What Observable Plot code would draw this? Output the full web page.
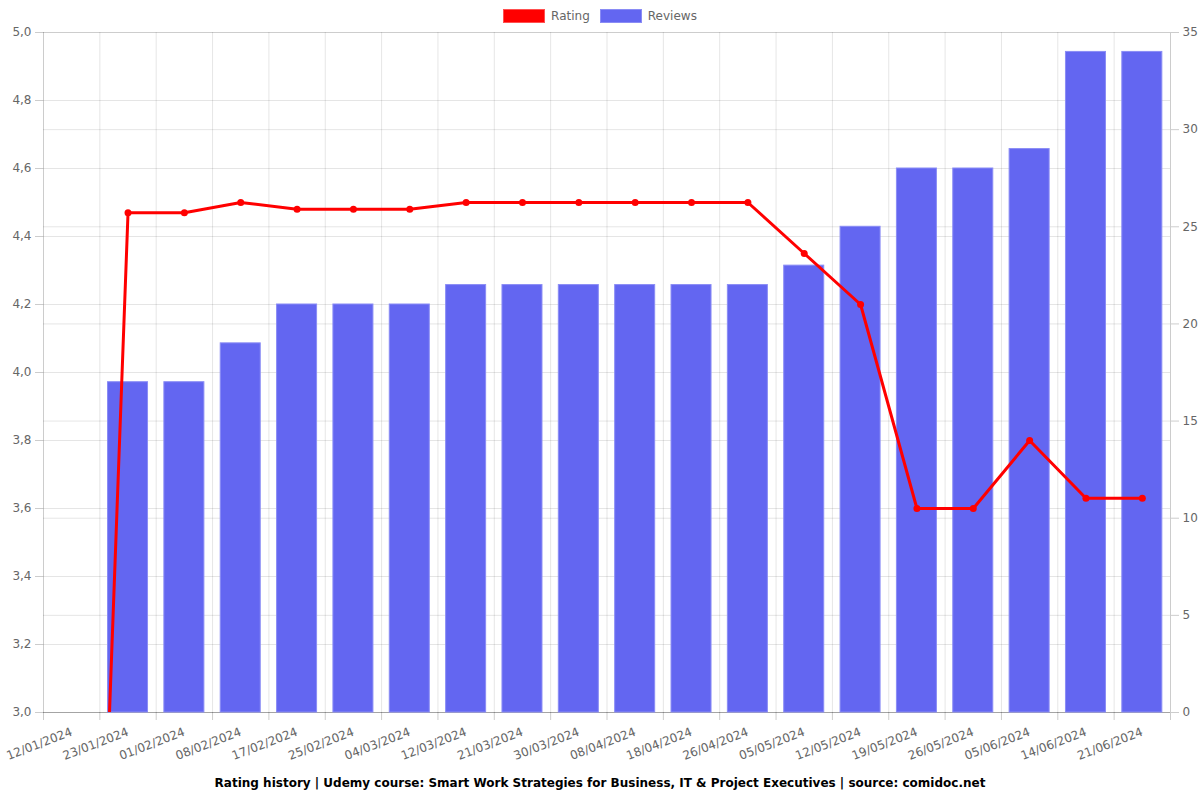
<!DOCTYPE html>
<html><head><meta charset="utf-8">
<script src="https://cdn.jsdelivr.net/npm/d3@7"></script>
<script src="https://cdn.jsdelivr.net/npm/@observablehq/plot@0.6"></script>
<style>
html,body{margin:0;background:#fff;font-family:"DejaVu Sans",sans-serif;overflow:hidden;}
#legend{height:24px;box-sizing:border-box;padding-top:8px;display:flex;justify-content:center;align-items:center;font-size:12px;color:#666;}
.item{display:flex;align-items:center;margin:0 5px;}
.sw{width:40px;height:12px;margin-right:6px;}
#chart svg{display:block;}
#title{text-align:center;font-weight:bold;font-size:12px;color:#000;height:30px;line-height:26px;}
</style></head>
<body>
<div id="legend"></div>
<div id="chart"></div>
<div id="title"></div>
<script>
const titleText = "Rating history | Udemy course: Smart Work Strategies for Business, IT & Project Executives | source: comidoc.net";
const dates = ["12/01/2024","23/01/2024","01/02/2024","08/02/2024","17/02/2024","25/02/2024","04/03/2024","12/03/2024","21/03/2024","30/03/2024","08/04/2024","18/04/2024","26/04/2024","05/05/2024","12/05/2024","19/05/2024","26/05/2024","05/06/2024","14/06/2024","21/06/2024"];
const ratings = [0,4.47,4.47,4.5,4.48,4.48,4.48,4.5,4.5,4.5,4.5,4.5,4.5,4.35,4.2,3.6,3.6,3.8,3.63,3.63];
const reviews = [0,17,17,19,21,21,21,22,22,22,22,22,22,23,25,28,28,29,34,34];
const leftTicks = [3.0,3.2,3.4,3.6,3.8,4.0,4.2,4.4,4.6,4.8,5.0];
const rightTicks = [0,5,10,15,20,25,30,35];
const seriesNames = ["Rating","Reviews"];
const seriesColors = ["#ff0000","#6366f1"];

const yMin = 3, yMax = 5, rMax = 35;
const toY = r => yMin + r * (yMax - yMin) / rMax;
const data = dates.map((d, i) => ({date: d, rating: ratings[i], reviews: reviews[i]}));

const W = 1200, ML = 43, MR = 30;
const band = (W - ML - MR) / dates.length;
const half = band / 2;
const inset = band * 0.145;
const gridC = "rgba(0,0,0,0.1)";
const axisC = "rgba(0,0,0,0.2)";

// legend
const lg = document.getElementById("legend");
seriesNames.forEach((n, i) => {
  const it = document.createElement("div"); it.className = "item";
  const sw = document.createElement("div"); sw.className = "sw";
  sw.style.background = seriesColors[i];
  sw.style.border = "1px solid " + (i === 0 ? "#ff5050" : "#8a8cf5");
  const t = document.createElement("span"); t.textContent = n;
  it.append(sw, t); lg.append(it);
});
document.getElementById("title").textContent = titleText;

const chart = Plot.plot({
  width: W, height: 746,
  marginTop: 8, marginBottom: 58, marginLeft: ML, marginRight: MR,
  style: {fontFamily: "DejaVu Sans", fontSize: "12px", color: "#666", background: "#fff"},
  x: {type: "band", domain: dates, padding: 0, round: false, axis: null, label: null},
  y: {domain: [yMin, yMax], axis: null, label: null},
  marks: [
    Plot.gridY(leftTicks, {stroke: gridC, strokeOpacity: 1}),
    Plot.gridY(rightTicks.map(toY), {stroke: gridC, strokeOpacity: 1}),
    Plot.gridX(dates.slice(1), {dx: -half, stroke: gridC, strokeOpacity: 1}),
    Plot.ruleX([dates[0]], {dx: -half, stroke: axisC}),
    Plot.ruleX([dates[dates.length - 1]], {dx: half, stroke: axisC}),
    Plot.ruleY([yMin], {stroke: axisC}),
    Plot.barY(data.filter(d => d.reviews > 0), {
      x: "date", y1: yMin, y2: d => toY(d.reviews),
      fill: seriesColors[1], stroke: "#8a8cf5", strokeWidth: 1,
      insetLeft: inset, insetRight: inset
    }),
    Plot.lineY(data, {x: "date", y: "rating", stroke: seriesColors[0], strokeWidth: 3, clip: true}),
    Plot.dot(data, {x: "date", y: "rating", fill: seriesColors[0], r: 3.5, clip: true}),
    Plot.axisY(leftTicks, {anchor: "left", label: null, tickSize: 8, tickPadding: 4, stroke: axisC, fill: "#666",
      tickFormat: d => d.toFixed(1).replace(".", ",")}),
    Plot.axisY(rightTicks.map(toY), {anchor: "right", label: null, tickSize: 8, tickPadding: 4, stroke: axisC, fill: "#666",
      tickFormat: v => String(Math.round((v - yMin) * rMax / (yMax - yMin)))}),
    Plot.axisX(dates, {anchor: "bottom", label: null, tickSize: 8, dx: -half, stroke: axisC, tickFormat: () => ""}),
    Plot.axisX([dates[dates.length - 1]], {anchor: "bottom", label: null, tickSize: 8, dx: half, stroke: axisC, tickFormat: () => ""}),
    Plot.axisX(dates, {anchor: "bottom", label: null, tickSize: 0, tickRotate: -21, tickPadding: 18, dx: 0, dy: 1, fill: "#666"})
  ]
});
document.getElementById("chart").append(chart);
</script>
</body></html>
